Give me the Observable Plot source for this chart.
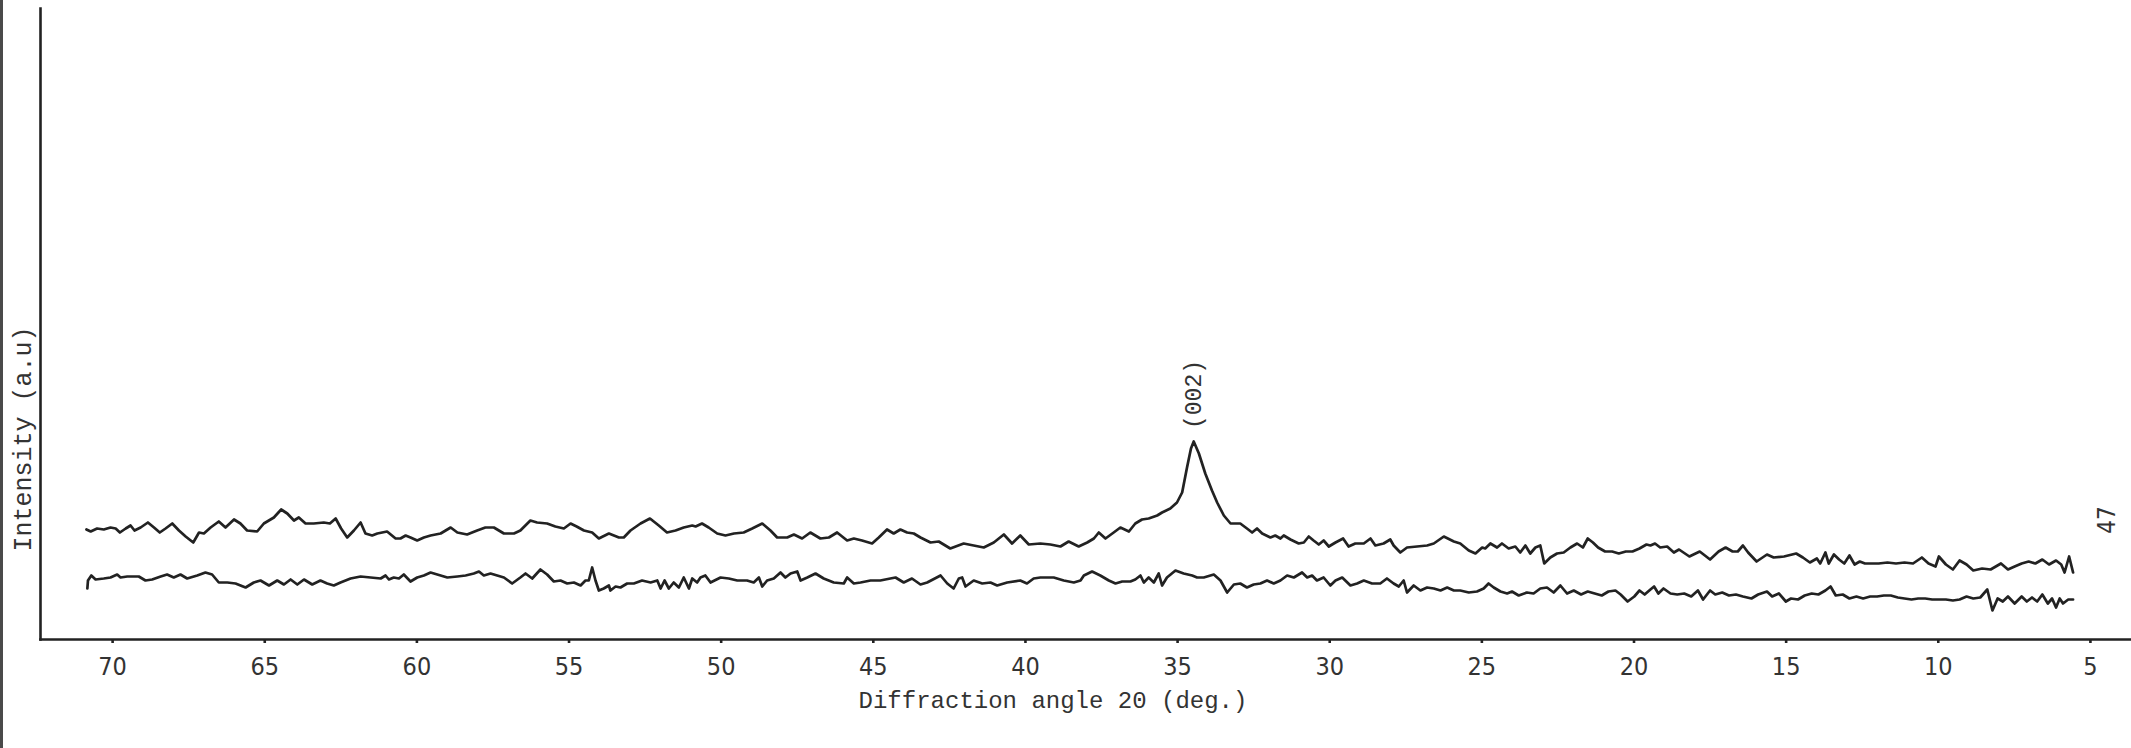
<!DOCTYPE html>
<html>
<head>
<meta charset="utf-8">
<script src="https://cdn.jsdelivr.net/npm/d3@7"></script>
<script src="https://cdn.jsdelivr.net/npm/@observablehq/plot@0.6"></script>
<style>
  html, body { margin: 0; padding: 0; background: #ffffff; }
  #wrap { position: relative; width: 2131px; height: 748px; overflow: hidden; }
  #edge { position: absolute; left: 0; top: 0; width: 3px; height: 748px; background: #4a4a4a; }
</style>
</head>
<body>
<div id="wrap"><div id="edge"></div></div>
<script>
// Tick labels on the diffraction-angle axis (2θ, degrees)
const xTicks = [70, 65, 60, 55, 50, 45, 40, 35, 30, 25, 20, 15, 10, 5];

// Upper pattern: [2θ (deg), intensity (a.u.)]
const upperTrace = [
  [70.86,105],[70.72,103],[70.51,106],[70.29,105],[70.07,107],[69.90,106],[69.76,102],[69.57,106],[69.41,109],[69.28,104],
  [69.08,107],[68.84,112],[68.64,107],[68.45,102],[68.26,106],[68.04,111],[67.82,104],[67.60,98],[67.35,92],[67.16,102],
  [67.00,101],[66.78,107],[66.51,113],[66.29,107],[66.01,115],[65.80,111],[65.58,104],[65.25,103],[65.03,111],[64.70,117],
  [64.46,125],[64.26,121],[64.04,114],[63.88,117],[63.66,111],[63.39,111],[63.06,112],[62.86,111],[62.67,116],[62.49,106],
  [62.29,97],[62.07,104],[61.85,112],[61.69,101],[61.47,99],[61.30,101],[60.98,103],[60.70,96],[60.54,96],[60.37,99],
  [60.21,97],[59.99,94],[59.77,97],[59.55,99],[59.22,101],[58.89,107],[58.67,102],[58.35,100],[58.02,104],[57.75,107],
  [57.47,107],[57.14,101],[56.81,101],[56.60,104],[56.27,114],[56.05,112],[55.72,111],[55.45,108],[55.17,106],[54.95,111],
  [54.75,108],[54.51,104],[54.24,102],[54.02,96],[53.69,101],[53.36,97],[53.20,97],[52.98,104],[52.65,111],[52.34,116],
  [52.05,109],[51.78,102],[51.50,104],[51.23,107],[50.95,109],[50.84,108],[50.63,111],[50.41,107],[50.13,101],[49.86,99],
  [49.58,101],[49.26,102],[48.98,106],[48.65,111],[48.38,104],[48.16,97],[47.83,97],[47.61,100],[47.34,96],[47.07,102],
  [46.74,96],[46.46,97],[46.19,102],[45.86,94],[45.64,96],[45.37,94],[45.04,91],[44.82,97],[44.55,105],[44.33,101],
  [44.11,105],[43.89,102],[43.67,101],[43.45,97],[43.12,92],[42.85,93],[42.47,86],[42.03,91],[41.70,89],[41.37,87],
  [41.04,92],[40.71,100],[40.44,91],[40.17,99],[39.89,90],[39.51,91],[39.18,90],[38.85,88],[38.58,93],[38.25,88],
  [37.97,92],[37.75,96],[37.59,102],[37.37,96],[37.10,102],[36.88,107],[36.60,103],[36.39,111],[36.17,115],[35.95,116],
  [35.67,119],[35.51,122],[35.24,126],[35.02,132],[34.85,142],[34.69,167],[34.56,186],[34.47,193],[34.30,181],[34.09,161],
  [33.87,144],[33.70,132],[33.48,119],[33.26,111],[32.94,111],[32.72,106],[32.55,102],[32.39,106],[32.22,101],[31.95,97],
  [31.79,99],[31.62,96],[31.51,99],[31.29,95],[31.02,91],[30.85,92],[30.69,98],[30.53,94],[30.36,90],[30.20,94],
  [30.03,88],[29.81,92],[29.56,96],[29.38,88],[29.16,91],[28.88,91],[28.66,96],[28.50,89],[28.23,91],[28.01,95],
  [27.90,89],[27.68,82],[27.46,87],[27.13,88],[26.80,89],[26.58,91],[26.25,98],[25.92,93],[25.71,91],[25.43,84],
  [25.21,81],[24.99,87],[24.89,86],[24.72,91],[24.50,87],[24.34,91],[24.12,86],[23.90,88],[23.74,82],[23.57,89],
  [23.41,81],[23.24,87],[23.08,89],[22.95,71],[22.75,77],[22.53,81],[22.31,82],[22.09,87],[21.87,91],[21.68,87],
  [21.52,96],[21.35,92],[21.18,87],[20.95,83],[20.72,83],[20.50,81],[20.27,83],[20.05,83],[19.82,86],[19.59,90],
  [19.46,89],[19.31,91],[19.14,87],[18.91,88],[18.69,82],[18.52,85],[18.18,78],[17.84,83],[17.50,75],[17.22,83],
  [16.99,87],[16.76,83],[16.59,83],[16.42,89],[16.25,82],[15.97,73],[15.63,80],[15.41,77],[15.07,78],[14.67,81],
  [14.45,77],[14.22,72],[13.99,76],[13.88,71],[13.71,82],[13.60,71],[13.43,80],[13.26,75],[13.09,71],[12.92,79],
  [12.75,70],[12.58,73],[12.41,71],[12.24,71],[11.96,71],[11.67,72],[11.39,71],[11.11,72],[10.83,71],[10.54,77],
  [10.32,71],[10.09,68],[9.98,78],[9.75,70],[9.52,65],[9.30,74],[9.07,70],[8.85,64],[8.56,66],[8.28,65],
  [7.94,71],[7.71,65],[7.49,68],[7.26,71],[7.03,73],[6.81,71],[6.58,75],[6.36,70],[6.13,74],[5.96,70],
  [5.85,62],[5.70,78],[5.57,62]
];

// Lower pattern: [2θ (deg), intensity (a.u.)]
const lowerTrace = [
  [70.83,46],[70.81,54],[70.70,59],[70.56,55],[70.29,56],[70.07,57],[69.85,60],[69.74,57],[69.52,58],[69.14,58],
  [68.92,54],[68.70,55],[68.42,58],[68.21,60],[67.99,57],[67.77,60],[67.55,56],[67.22,59],[66.95,62],[66.73,60],
  [66.51,52],[66.23,52],[65.96,51],[65.63,47],[65.36,52],[65.14,54],[64.86,49],[64.59,54],[64.37,50],[64.15,55],
  [63.93,50],[63.71,55],[63.44,50],[63.17,54],[62.95,51],[62.73,49],[62.51,52],[62.18,56],[61.85,58],[61.52,57],
  [61.19,56],[61.03,59],[60.92,55],[60.76,57],[60.59,56],[60.43,60],[60.21,53],[59.99,57],[59.77,59],[59.55,62],
  [59.33,60],[59.00,57],[58.67,58],[58.40,59],[58.13,61],[57.96,63],[57.80,59],[57.58,61],[57.36,59],[57.14,57],
  [56.87,51],[56.60,57],[56.43,61],[56.21,56],[55.94,65],[55.72,60],[55.50,53],[55.28,54],[55.06,51],[54.84,52],
  [54.62,49],[54.46,54],[54.35,54],[54.24,67],[54.13,54],[54.02,44],[53.86,46],[53.69,49],[53.64,44],[53.47,48],
  [53.31,47],[53.09,51],[52.87,51],[52.60,54],[52.32,52],[52.10,54],[51.99,46],[51.86,54],[51.72,46],[51.56,52],
  [51.39,47],[51.23,57],[51.06,46],[50.95,56],[50.79,52],[50.68,57],[50.52,59],[50.35,52],[50.02,57],[49.75,56],
  [49.47,54],[49.15,54],[48.93,52],[48.76,57],[48.65,48],[48.49,54],[48.27,56],[48.05,62],[47.89,57],[47.72,61],
  [47.50,63],[47.39,54],[47.17,57],[46.90,61],[46.63,56],[46.30,52],[45.97,51],[45.86,57],[45.64,51],[45.42,52],
  [45.09,54],[44.77,54],[44.44,56],[44.27,57],[44.00,52],[43.73,56],[43.45,50],[43.23,52],[42.79,59],[42.57,51],
  [42.36,46],[42.19,56],[42.08,57],[41.97,48],[41.70,54],[41.42,51],[41.15,52],[40.93,49],[40.60,52],[40.17,54],
  [39.95,51],[39.73,56],[39.51,57],[39.07,57],[38.74,54],[38.41,52],[38.19,54],[38.08,59],[37.81,63],[37.54,59],
  [37.26,54],[37.04,51],[36.82,53],[36.55,53],[36.39,55],[36.22,59],[36.11,52],[35.95,57],[35.78,52],[35.62,61],
  [35.51,49],[35.35,57],[35.07,64],[34.80,61],[34.52,59],[34.36,57],[34.14,57],[33.81,60],[33.59,54],[33.37,42],
  [33.15,50],[32.94,51],[32.72,47],[32.50,50],[32.28,51],[32.06,54],[31.84,51],[31.62,54],[31.40,59],[31.18,57],
  [30.91,62],[30.74,57],[30.58,59],[30.42,54],[30.20,57],[29.98,49],[29.81,54],[29.59,57],[29.32,49],[29.10,51],
  [28.88,54],[28.61,51],[28.34,51],[28.12,56],[27.90,51],[27.73,48],[27.57,54],[27.46,42],[27.24,49],[27.02,44],
  [26.80,47],[26.58,46],[26.36,44],[26.14,47],[25.92,44],[25.71,44],[25.43,42],[25.16,43],[24.94,46],[24.78,51],
  [24.61,47],[24.39,43],[24.17,41],[24.01,43],[23.79,39],[23.52,42],[23.30,41],[23.08,46],[22.86,47],[22.64,42],
  [22.42,49],[22.20,41],[21.98,44],[21.74,40],[21.52,43],[21.29,41],[21.06,39],[20.84,43],[20.61,44],[20.44,40],
  [20.21,33],[19.99,38],[19.82,44],[19.65,40],[19.46,45],[19.34,48],[19.20,41],[19.03,46],[18.80,41],[18.58,40],
  [18.35,41],[18.12,38],[17.90,44],[17.73,35],[17.50,44],[17.33,40],[17.10,42],[16.88,39],[16.65,40],[16.42,38],
  [16.14,36],[15.92,40],[15.63,43],[15.46,38],[15.24,41],[15.01,33],[14.84,36],[14.61,35],[14.39,39],[14.16,41],
  [13.94,40],[13.71,44],[13.54,48],[13.37,39],[13.14,40],[12.92,36],[12.69,38],[12.47,36],[12.24,38],[12.01,38],
  [11.79,39],[11.56,39],[11.33,37],[11.11,36],[10.88,35],[10.66,36],[10.43,36],[10.20,35],[9.98,35],[9.75,35],
  [9.52,34],[9.30,35],[9.07,38],[8.85,36],[8.62,37],[8.39,45],[8.22,24],[8.05,36],[7.88,33],[7.71,38],
  [7.49,31],[7.26,38],[7.09,33],[6.92,37],[6.75,33],[6.58,40],[6.40,31],[6.26,36],[6.13,27],[6.01,36],
  [5.90,31],[5.73,35],[5.57,35]
];

// Reflection label
const peakLabels = [{angle: 34.47, intensity: 193, label: "(002)"}];

const xLabel = "Diffraction angle 20 (deg.)";
const yLabel = "Intensity (a.u)";
const pageNumber = "47";

const ink = "#222222";
const mono = "'Liberation Mono', 'DejaVu Sans Mono', monospace";
const narrow = "'Liberation Sans Narrow', 'DejaVu Sans Condensed', 'DejaVu Sans', sans-serif";

const chart = Plot.plot({
  width: 2131,
  height: 748,
  marginLeft: 40,
  marginRight: 0,
  marginTop: 8,
  marginBottom: 109,
  style: {background: "transparent", color: ink, fontFamily: narrow, fontSize: "25px"},
  x: {domain: [72.37, 3.65], axis: null},
  y: {domain: [-5, 626], axis: null},
  marks: [
    Plot.frame({anchor: "left", stroke: ink, strokeWidth: 2.6}),
    Plot.frame({anchor: "bottom", stroke: ink, strokeWidth: 2.6}),
    Plot.axisX(xTicks, {anchor: "bottom", tickSize: 4, tickPadding: 14, strokeWidth: 2.6, label: null, fill: "#333", tickFormat: d => String(d)}),
    Plot.line(upperTrace, {x: d => d[0], y: d => d[1], stroke: ink, strokeWidth: 2.7, strokeLinejoin: "round"}),
    Plot.line(lowerTrace, {x: d => d[0], y: d => d[1], stroke: ink, strokeWidth: 2.7, strokeLinejoin: "round"}),
    Plot.text(peakLabels, {x: "angle", y: "intensity", text: "label", rotate: -90, dy: -47, textAnchor: "middle", lineAnchor: "middle", fontFamily: mono, fontSize: 23, fill: "#333"}),
    Plot.text([xLabel], {frameAnchor: "bottom", textAnchor: "middle", lineAnchor: "middle", dx: -33, dy: 61, fontFamily: mono, fontSize: 24, fill: "#333"}),
    Plot.text([yLabel], {frameAnchor: "left", textAnchor: "middle", lineAnchor: "middle", rotate: -90, dx: -18, dy: 115, fontFamily: mono, fontSize: 25, fill: "#333"}),
    Plot.text([pageNumber], {frameAnchor: "right", textAnchor: "middle", lineAnchor: "middle", rotate: -90, dx: -24, dy: 196, fontFamily: narrow, fontSize: 24, fill: "#333"})
  ]
});
document.getElementById("wrap").appendChild(chart);
</script>
</body>
</html>
